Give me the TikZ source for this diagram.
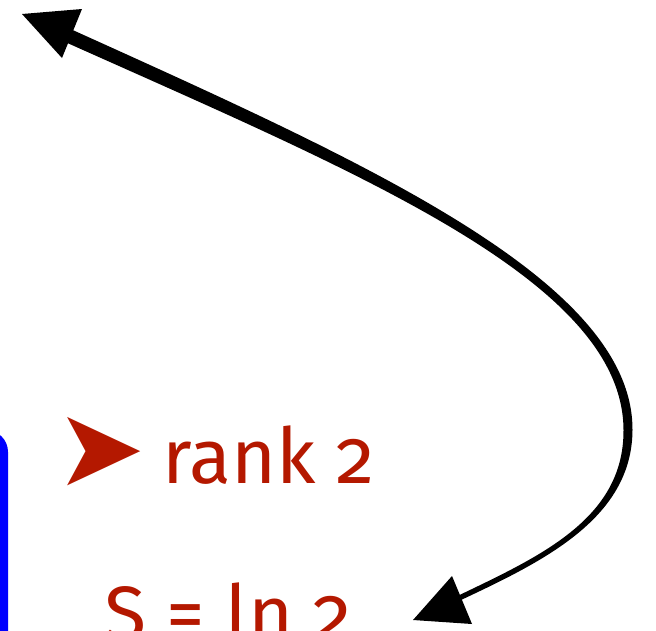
\documentclass[tikz,border=0pt]{standalone}
\usepackage{fontspec}
\setmainfont{Fira Sans}[Numbers=OldStyle]
\newfontfamily\symfont{DejaVu Sans}
\definecolor{slred}{RGB}{180,24,0}
\definecolor{slblue}{RGB}{0,0,255}
\begin{document}
\begin{tikzpicture}[x=1pt,y=-1pt,
  redtext/.style={text=slred, font=\fontsize{77}{80}\selectfont, inner sep=0pt, anchor=base west},
  bullet/.style={text=slred, font=\symfont\fontsize{108}{110}\selectfont, inner sep=0pt, anchor=base west},
  headfill/.style={fill=black}]
\useasboundingbox (0,0) rectangle (656,630);
% blue frame edge
\draw[slblue, line width=8pt, rounded corners=18pt] (-40,434) -- (4,434) -- (4,660);
% texts
\node[bullet] (bul) at (55,485) {➤};
\node[redtext] (rank) at (162,483) {rank 2};
\node[redtext] (ent) at (104,640) {S = ln 2};
% tapered double arrow
\coordinate (topend) at (22,14);
\coordinate (botend) at (413,620);
\fill (57.1,38.4) .. controls (357.3,172.9) and (623,280) .. (623.5,430)
  .. controls (624,520) and (537.7,557.3) .. (453.9,597.7)
  -- (456.1,602.3) .. controls (540.3,562.7) and (632,520) .. (632.5,430)
  .. controls (633,280) and (362.7,161.1) .. (62.9,25.6) -- cycle;
\fill[headfill] (topend) -- (82,9) -- (62,58) -- cycle;
\fill[headfill] (botend) -- (452,576) -- (472,624) -- cycle;
\end{tikzpicture}
\end{document}
